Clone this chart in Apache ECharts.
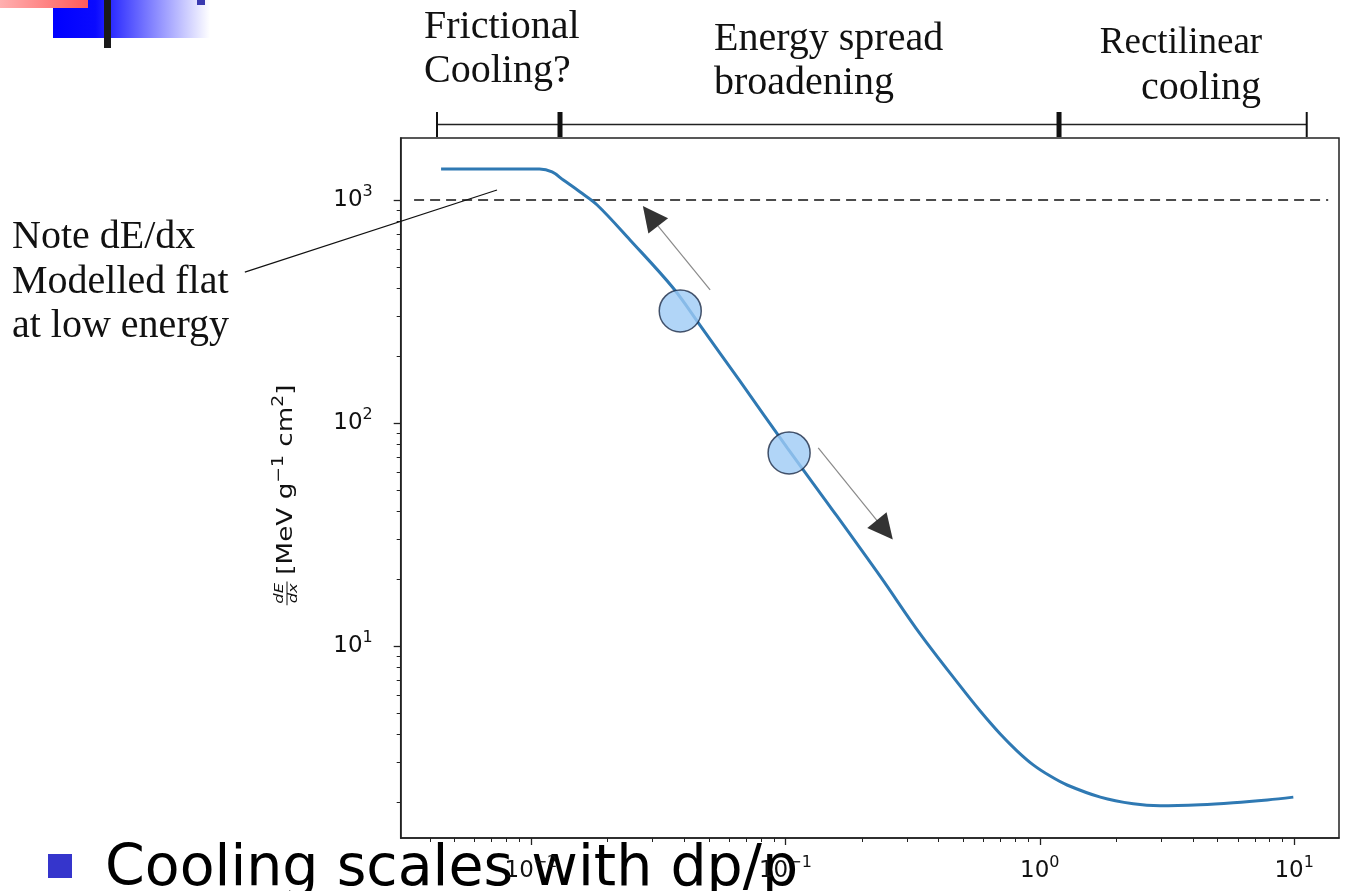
<!DOCTYPE html>
<html><head><meta charset="utf-8">
<script src="https://cdn.jsdelivr.net/npm/echarts@6/dist/echarts.min.js"></script>
<style>html,body{margin:0;padding:0;background:#fff}#c{width:1346px;height:891px}</style>
</head><body><div id="c"></div>
<script>
// ---- data ----
const momentum = [0.00443, 0.0108, 0.0121, 0.0134, 0.0156, 0.0182, 0.0245, 0.0362, 0.0462, 0.0663, 0.102, 0.150, 0.236, 0.339, 0.486, 0.583, 0.699, 0.815, 0.942, 1.099, 1.28, 1.73, 2.33, 2.97, 4.27, 5.76, 7.84, 9.92];
const dEdx = [1377, 1377, 1336, 1229, 1086, 950, 662, 403, 274, 154, 77.0, 42.1, 20.5, 11.3, 6.62, 5.11, 4.03, 3.38, 2.93, 2.61, 2.38, 2.10, 1.96, 1.92, 1.94, 1.98, 2.04, 2.10];

const xRange = [0.003074, 15.0];
const yRange = [1.377, 1897];
const xMajorTicks = [0.01, 0.1, 1, 10];
const xMinorTicks = [0.004, 0.005, 0.006, 0.007, 0.008, 0.009, 0.02, 0.03, 0.04, 0.05, 0.06, 0.07, 0.08, 0.09, 0.2, 0.3, 0.4, 0.5, 0.6, 0.7, 0.8, 0.9, 2, 3, 4, 5, 6, 7, 8, 9];
const yMajorTicks = [10, 100, 1000];
const yMinorTicks = [2, 3, 4, 5, 6, 7, 8, 9, 20, 30, 40, 50, 60, 70, 80, 90, 200, 300, 400, 500, 600, 700, 800, 900];

const referenceLevel = 1000;
const referenceSpan = [0.00347, 13.6];

const markerX = [0.0386, 0.1034];
const markerY = [318, 73.4];

const arrowShaftX = [[0.0506, 0.0316], [0.1346, 0.2296]];
const arrowShaftY = [[395, 764], [77.3, 36.4]];
const arrowHeadX = [0.0295, 0.246];
const arrowHeadY = [848, 33.2];
const arrowHeadAngle = [38, 219.5];

const noteLineX = [0.00075, 0.00735];
const noteLineY = [475, 1109];

const regionEdges = [0.00427, 0.0130, 1.19, 11.2];
const regionEdgeWeight = [2, 5, 5, 2];

const xTickLabel = v => {
  const e = Math.round(Math.log10(v));
  return '{b|10}{s|' + (e < 0 ? '\u2212' + (-e) : String(e)) + '}';
};
const tickRich = {
  b: { fontSize: 23, fontFamily: 'DejaVu Sans', color: '#111', lineHeight: 32 },
  s: { fontSize: 16, fontFamily: 'DejaVu Sans', color: '#111', lineHeight: 16, verticalAlign: 'top' }
};

const serif = '"Liberation Serif", "Times New Roman", serif';

const chart = echarts.init(document.getElementById('c'));
const axisCol = '#222';
const option = {
  animation: false,
  backgroundColor: '#fff',
  grid: [
    { left: 400.7, right: 7, top: 138, bottom: 53, show: true, borderColor: axisCol, borderWidth: 1.5, backgroundColor: 'transparent' },
    { left: 400.7, right: 7, top: 112, height: 25, show: false }
  ],
  xAxis: [
    { gridIndex: 0, type: 'log', logBase: 10, position: 'bottom', min: xRange[0], max: xRange[1],
      axisLine: { show: true, lineStyle: { color: axisCol, width: 1.5 } },
      axisTick: { show: true, customValues: xMajorTicks, length: 7, lineStyle: { color: axisCol, width: 1.3 } },
      axisLabel: { show: true, customValues: xMajorTicks, formatter: xTickLabel, rich: tickRich, margin: 17 },
      splitLine: { show: false }, minorTick: { show: false } },
    { gridIndex: 0, type: 'log', logBase: 10, position: 'bottom', min: xRange[0], max: xRange[1],
      axisLine: { show: false },
      axisTick: { show: true, customValues: xMinorTicks, length: 4, lineStyle: { color: axisCol, width: 1 } },
      axisLabel: { show: false }, splitLine: { show: false } },
    { gridIndex: 1, type: 'log', logBase: 10, min: xRange[0], max: xRange[1], show: false }
  ],
  yAxis: [
    { gridIndex: 0, type: 'log', logBase: 10, position: 'left', min: yRange[0], max: yRange[1],
      axisLine: { show: true, lineStyle: { color: axisCol, width: 1.5 } },
      axisTick: { show: true, customValues: yMajorTicks, length: 7, lineStyle: { color: axisCol, width: 1.3 } },
      axisLabel: { show: true, customValues: yMajorTicks, formatter: xTickLabel, rich: tickRich, margin: 28 },
      splitLine: { show: false } },
    { gridIndex: 0, type: 'log', logBase: 10, position: 'left', min: yRange[0], max: yRange[1],
      axisLine: { show: false },
      axisTick: { show: true, customValues: yMinorTicks, length: 4, lineStyle: { color: axisCol, width: 1 } },
      axisLabel: { show: false }, splitLine: { show: false } },
    { gridIndex: 1, type: 'value', min: 0, max: 1, show: false }
  ],
  series: [
    { type: 'line', name: 'dE/dx', xAxisIndex: 0, yAxisIndex: 0, z: 3,
      data: momentum.map((x, i) => [x, dEdx[i]]),
      showSymbol: false, smooth: 0.35,
      lineStyle: { color: '#2f79b3', width: 3 } },
    { type: 'line', xAxisIndex: 0, yAxisIndex: 0, z: 2, showSymbol: false, silent: true,
      data: [[referenceSpan[0], referenceLevel], [referenceSpan[1], referenceLevel]],
      lineStyle: { color: '#111', width: 1.3, type: [10, 6] } },
    ...arrowShaftX.map((xs, k) => ({
      type: 'line', xAxisIndex: 0, yAxisIndex: 0, z: 4, showSymbol: false, silent: true,
      data: [[xs[0], arrowShaftY[k][0]], [xs[1], arrowShaftY[k][1]]],
      lineStyle: { color: '#8a8a8a', width: 1.2 } })),
    { type: 'scatter', xAxisIndex: 0, yAxisIndex: 0, z: 5, silent: true,
      symbol: 'triangle', symbolSize: [25, 25],
      data: arrowHeadX.map((x, i) => ({ value: [x, arrowHeadY[i]], symbolRotate: arrowHeadAngle[i] })),
      itemStyle: { color: '#000' } },
    { type: 'scatter', xAxisIndex: 0, yAxisIndex: 0, z: 6, silent: true,
      symbol: 'circle', symbolSize: 42,
      data: markerX.map((x, i) => [x, markerY[i]]),
      itemStyle: { color: '#9dcaf5', borderColor: '#1b2a46', borderWidth: 1.5 } },
    { type: 'line', xAxisIndex: 2, yAxisIndex: 2, showSymbol: false, silent: true,
      data: [[regionEdges[0], 0.5], [regionEdges[3], 0.5]],
      lineStyle: { color: '#222', width: 1.5 } },
    ...regionEdges.map((x, i) => ({
      type: 'line', xAxisIndex: 2, yAxisIndex: 2, showSymbol: false, silent: true,
      data: [[x, 0], [x, 1]],
      lineStyle: { color: '#111', width: regionEdgeWeight[i] } }))
  ],
  graphic: [
    // slide decoration (top-left)
    { type: 'rect', shape: { x: 53, y: 0, width: 157, height: 38 }, silent: true,
      style: { fill: new echarts.graphic.LinearGradient(0, 0, 1, 0, [
        { offset: 0, color: '#0000ff' }, { offset: 0.27, color: '#0a0aff' }, { offset: 1, color: '#ffffff' }]) } },
    { type: 'rect', shape: { x: 0, y: 0, width: 88, height: 8 }, silent: true,
      style: { fill: new echarts.graphic.LinearGradient(0, 0, 1, 0, [
        { offset: 0, color: '#ffb0b0' }, { offset: 1, color: '#ff5a5a' }]) } },
    { type: 'rect', shape: { x: 104, y: 0, width: 7, height: 48 }, silent: true, style: { fill: '#1a1a1a' } },
    { type: 'rect', shape: { x: 197, y: 0, width: 8, height: 5 }, silent: true, style: { fill: '#3a3ab0' } },
    // region labels
    { type: 'text', x: 424, y: 27, style: { text: 'Frictional', font: '40px ' + serif, fill: '#111', align: 'left', verticalAlign: 'middle' } },
    { type: 'text', x: 424, y: 71, style: { text: 'Cooling?', font: '40px ' + serif, fill: '#111', align: 'left', verticalAlign: 'middle' } },
    { type: 'text', x: 714, y: 39, style: { text: 'Energy spread', font: '40px ' + serif, fill: '#111', align: 'left', verticalAlign: 'middle' } },
    { type: 'text', x: 714, y: 83, style: { text: 'broadening', font: '40px ' + serif, fill: '#111', align: 'left', verticalAlign: 'middle' } },
    { type: 'text', x: 1181, y: 43, style: { text: 'Rectilinear', font: '37px ' + serif, fill: '#111', align: 'center', verticalAlign: 'middle' } },
    { type: 'text', x: 1201, y: 88, style: { text: 'cooling', font: '40px ' + serif, fill: '#111', align: 'center', verticalAlign: 'middle' } },
    // note
    { type: 'text', x: 12, y: 237, style: { text: 'Note dE/dx', font: '40px ' + serif, fill: '#111', align: 'left', verticalAlign: 'middle' } },
    { type: 'text', x: 12, y: 282, style: { text: 'Modelled flat', font: '40px ' + serif, fill: '#111', align: 'left', verticalAlign: 'middle' } },
    { type: 'text', x: 12, y: 326, style: { text: 'at low energy', font: '40px ' + serif, fill: '#111', align: 'left', verticalAlign: 'middle' } },
    // y axis title
    { type: 'group', x: 287, y: 494, rotation: Math.PI / 2, scaleX: 1.25, silent: true, children: [
      { type: 'text', style: { text: '[MeV g{s|\u22121} cm{s|2}]', x: 11.5, y: 0, font: '21px "DejaVu Sans"', lineHeight: 30, fill: '#111', align: 'center', verticalAlign: 'middle',
        rich: { s: { fontSize: 15, fontFamily: 'DejaVu Sans', lineHeight: 16, verticalAlign: 'top', fill: '#111' } } } },
      { type: 'text', style: { text: 'dE', x: -79.5, y: -7, font: 'italic 13px "DejaVu Sans"', fill: '#111', align: 'center', verticalAlign: 'middle' } },
      { type: 'text', style: { text: 'dx', x: -79.5, y: 7, font: 'italic 13px "DejaVu Sans"', fill: '#111', align: 'center', verticalAlign: 'middle' } },
      { type: 'line', shape: { x1: -89, y1: 0, x2: -70, y2: 0 }, style: { stroke: '#111', lineWidth: 1 } }
    ] },
    // bullet text at bottom
    { type: 'rect', shape: { x: 48, y: 854, width: 24, height: 24 }, silent: true, style: { fill: '#3535cc' } },
    { type: 'text', x: 105, y: 870, z: -1, style: { text: 'Cooling scales with dp/p', font: '57px "DejaVu Sans"', fill: '#000', align: 'left', verticalAlign: 'middle' } }
  ]
};
chart.setOption(option);
// annotation pointer from the note text into the plot, placed through the axes' scales
const p0 = chart.convertToPixel({ gridIndex: 0 }, [noteLineX[0], noteLineY[0]]);
const p1 = chart.convertToPixel({ gridIndex: 0 }, [noteLineX[1], noteLineY[1]]);
chart.setOption({ graphic: [{ id: 'notePointer', type: 'line', silent: true, z: 10,
  shape: { x1: p0[0], y1: p0[1], x2: p1[0], y2: p1[1] }, style: { stroke: '#111', lineWidth: 1.2 } }] });
</script>
</body></html>
